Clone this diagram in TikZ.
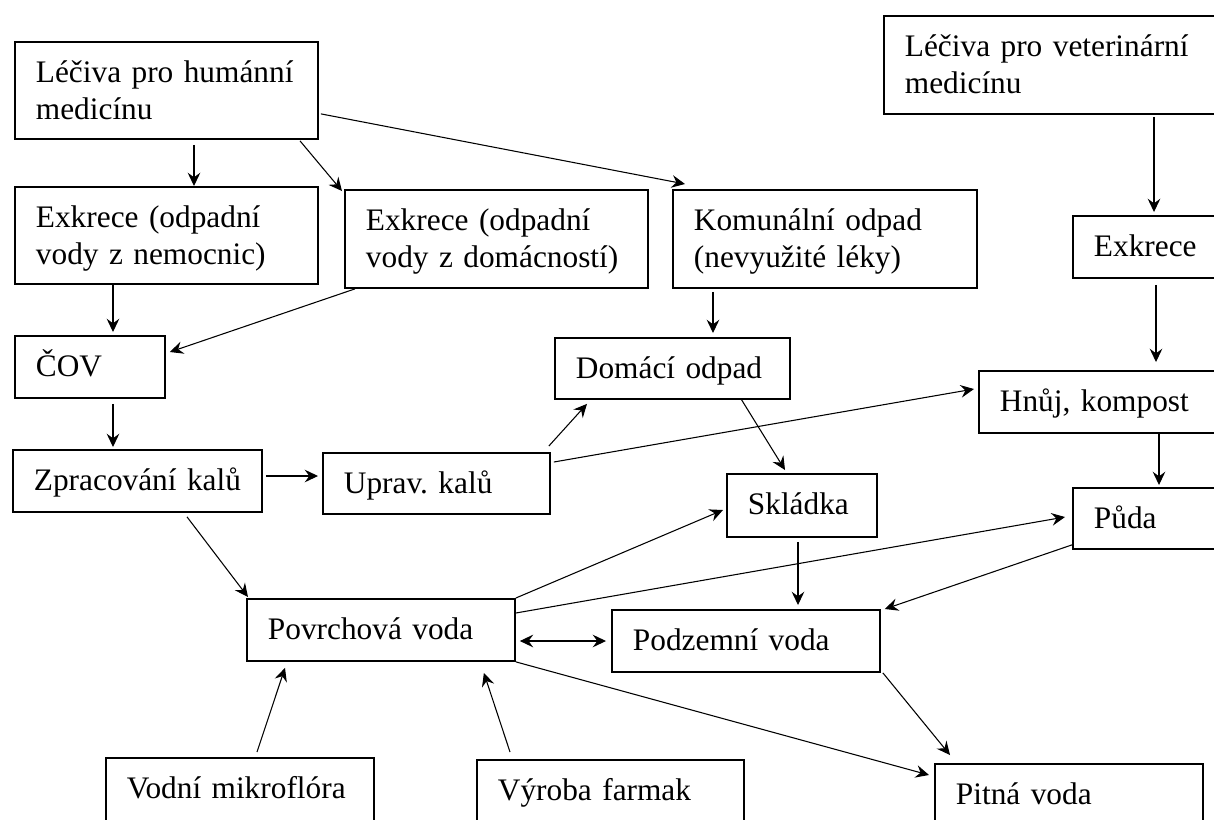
\documentclass[tikz,border=0pt]{standalone}
\usepackage{fontspec}
\setmainfont{Liberation Serif}
\usetikzlibrary{arrows.meta,calc}
\frenchspacing
\begin{document}
\begin{tikzpicture}[x=0.75pt,y=-0.75pt,
  bx/.style 2 args={draw, line width=1.4pt, rectangle, anchor=north west,
    inner xsep=15.75pt, inner ysep=0pt, align=left, text width=#1,
    text height=30.75pt, text depth=#2,
    font=\fontsize{23.5}{27.5}\selectfont\frenchspacing},
  arr/.style={line width=0.8pt, -{Stealth[length=10pt, width=9.5pt, inset=3.5pt]}},
  darr/.style={line width=0.8pt, {Stealth[length=10pt, width=9.5pt, inset=3.5pt]}-{Stealth[length=10pt, width=9.5pt, inset=3.5pt]}},
  ln/.style={line width=0.8pt}]
\useasboundingbox (0,0) rectangle (1214,819);
\fill[white] (0,0) rectangle (1214,819);

% boxes
\node[bx={195.75pt}{42pt}] (hum) at (14,41) {\mbox{Léčiva pro humánní}\\medicínu};
\node[bx={223.5pt}{42.75pt}] (vet) at (883,15) {\mbox{Léčiva pro veterinární}\\medicínu};
\node[bx={195.75pt}{42pt}] (nem) at (14,186) {\mbox{Exkrece (odpadní}\\\mbox{vody z nemocnic)}};
\node[bx={195.75pt}{42.75pt}] (dom) at (344,189) {\mbox{Exkrece (odpadní}\\\mbox{vody z domácností)}};
\node[bx={196.5pt}{42.75pt}] (kom) at (672,189) {\mbox{Komunální odpad}\\\mbox{(nevyužité léky)}};
\node[bx={88.5pt}{15.75pt}] (exk) at (1072,215) {Exkrece};
\node[bx={81pt}{15.75pt}] (cov) at (14,335) {ČOV};
\node[bx={144.75pt}{15pt}] (domodp) at (554,337) {\mbox{Domácí odpad}};
\node[bx={163.5pt}{15.75pt}] (hnuj) at (978,370) {\mbox{Hnůj, kompost}};
\node[bx={155.25pt}{15.75pt}] (zprac) at (12,449) {\mbox{Zpracování kalů}};
\node[bx={138.75pt}{15pt}] (uprav) at (322,452) {\mbox{Uprav. kalů}};
\node[bx={81pt}{16.5pt}] (sklad) at (726,473) {Skládka};
\node[bx={88.5pt}{15pt}] (puda) at (1072,487) {Půda};
\node[bx={169.5pt}{15.75pt}] (povrch) at (246,598) {\mbox{Povrchová voda}};
\node[bx={169.5pt}{15.75pt}] (podz) at (611,609) {\mbox{Podzemní voda}};
\node[bx={169.5pt}{29.25pt}] (vodni) at (105,757) {\mbox{Vodní mikroflóra}};
\node[bx={168.75pt}{29.25pt}] (vyroba) at (476,759) {\mbox{Výroba farmak}};
\node[bx={169.5pt}{29.25pt}] (pitna) at (934,763) {\mbox{Pitná voda}};

% connectors
\draw[arr] ($(hum.south west)+(180,5)$) -- ($(nem.north west)+(180,0)$);
\draw[arr] ($(hum.south west)+(286,1)$) -- ($(dom.north west)+(-2,2)$);
\draw[arr] ($(hum.south east)+(2,-26)$) -- ($(kom.north west)+(13,-5)$);
\draw[arr] ($(vet.south west)+(271,2)$) -- ($(exk.north west)+(82,-3)$);
\draw[arr] ($(nem.south west)+(99,0)$) -- ($(cov.north west)+(99,-3)$);
\draw[arr] ($(dom.south west)+(11,0)$) -- ($(cov.north east)+(4,17)$);
\draw[arr] ($(cov.south west)+(99,5)$) -- ($(zprac.north west)+(101,-2)$);
\draw[arr] ($(zprac.north east)+(3,27)$) -- ($(uprav.north west)+(-4,24)$);
\draw[arr] ($(zprac.south west)+(175,4)$) -- ($(povrch.north west)+(2,-1)$);
\draw[arr] ($(kom.south west)+(41,3)$) -- ($(domodp.north west)+(159,-4)$);
\draw[arr] ($(uprav.north east)+(-2,-6)$) -- ($(domodp.south west)+(33,4)$);
\draw[arr] ($(uprav.north east)+(3,10)$) -- ($(hnuj.north west)+(-4,19)$);
\draw[arr] ($(domodp.south west)+(187,-1)$) -- ($(sklad.north west)+(59,-3)$);
\draw[arr] ($(exk.south west)+(84,6)$) -- ($(hnuj.north west)+(178,-8)$);
\draw[arr] ($(hnuj.south west)+(181,0)$) -- ($(puda.north west)+(87,-2)$);
\draw[arr] (povrch.north east) -- ($(sklad.north west)+(-3,37)$);
\draw[arr] ($(povrch.north east)+(0,15)$) -- ($(puda.north west)+(-7,30)$);
\draw[arr] ($(puda.south west)+(0,-5)$) -- ($(podz.north east)+(4,0)$);
\draw[arr] ($(sklad.south west)+(72,4)$) -- ($(podz.north west)+(187,-4)$);
\draw[darr] ($(povrch.north east)+(4,43)$) -- ($(podz.north west)+(-5,32)$);
\draw[arr] (povrch.south east) -- ($(pitna.north west)+(-5,12)$);
\draw[arr] ($(podz.south east)+(2,0)$) -- ($(pitna.north west)+(16,-8)$);
\draw[arr] ($(vodni.north west)+(152,-5)$) -- ($(povrch.south west)+(39,6)$);
\draw[arr] ($(vyroba.north west)+(34,-7)$) -- ($(povrch.south east)+(-32,11)$);
\end{tikzpicture}
\end{document}
